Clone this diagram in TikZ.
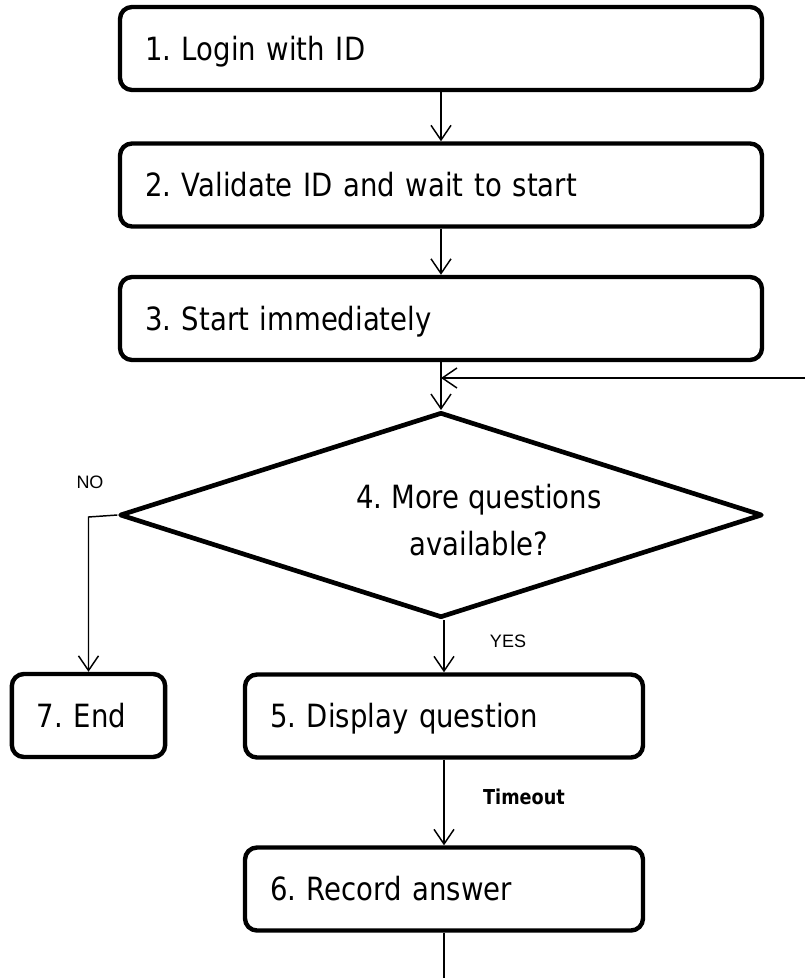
\documentclass[tikz,border=0pt]{standalone}
\usepackage{fontspec}
\setmainfont{DejaVu Sans}[FakeStretch=0.86]
\newfontfamily\lblfont{Liberation Sans}
\usepackage{tikz}
\usetikzlibrary{arrows.meta,shapes.geometric}
\frenchspacing

\tikzset{
  stepbox/.style={draw, line width=3.3pt, rounded corners=9pt, minimum height=62.25pt,
    inner xsep=18.75pt, inner ysep=0pt, align=left, text height=22.5pt, text depth=5pt,
    font=\fontsize{24}{30}\selectfont},
  decision/.style={diamond, draw, line width=3.5pt, line join=round, aspect=3.1,
    inner sep=0pt, minimum width=482pt, minimum height=154pt},
  flow/.style={line width=1.1pt, -{Straight Barb[length=11pt,width=15pt]}},
  plain/.style={line width=1.1pt},
  branch/.style={font=\lblfont\fontsize{13.5}{16}\selectfont},
}

\begin{document}
\begin{tikzpicture}[x=0.75pt,y=-0.75pt]
  \useasboundingbox (0,0) rectangle (805,978);

    \draw (441,48.5) node[stepbox,text width=444pt] (login) {1. Login with ID};
    \draw (441,185) node[stepbox,text width=444pt] (valid) {2. Validate ID and wait to start};
    \draw (441,318.5) node[stepbox,text width=444pt] (start) {3. Start immediately};
  \draw (441,515) node[decision] (more) {};
  \draw (479,520) node[align=center,font=\fontsize{24}{35}\selectfont] (moretxt) {4. More questions\\available?};
    \draw (88.5,715.5) node[stepbox,text width=77.5pt] (stop) {7. End};
    \draw (444,716) node[stepbox,text width=261pt] (show) {5. Display question};
    \draw (444,889) node[stepbox,text width=261pt] (record) {6. Record answer};

  \coordinate (back) at (805,378);
  \coordinate (join) at (441,378);
  \coordinate (nobend) at (88.5,517);
  \coordinate (tail) at (444,978);

      \path[flow] (login) edge (valid);
      \path[flow] (valid) edge (start);
      \path[flow] (start) edge (more);
      \path[flow] (back) edge (join);
      \draw[flow] (more.west) -- (nobend) -- (stop.north);
      \path[flow] (more.south -| show.north) edge (show);
      \path[flow] (show) edge (record);
      \path[plain] (record) edge (tail);

    \draw (90,482) node[branch] (no) {NO};
    \draw (508,641) node[branch] (yes) {YES};
    \draw (524,797) node[font=\bfseries\fontsize{15.4}{18}\selectfont] (timeout) {Timeout};
\end{tikzpicture}
\end{document}
